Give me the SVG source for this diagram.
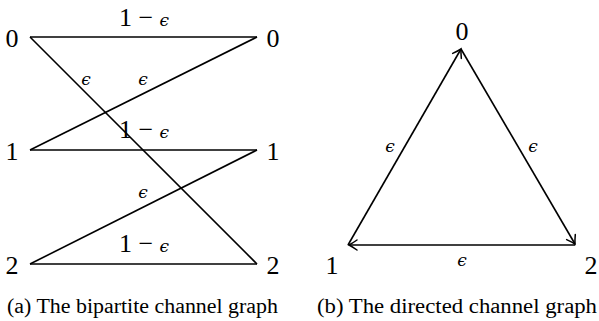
<svg xmlns="http://www.w3.org/2000/svg" width="599" height="321" viewBox="0 0 599 321">
<defs>
<style>
.lbl{font-family:'Liberation Serif','Times New Roman',Times,serif;font-size:26px;fill:#000;text-anchor:middle}
.eps{font-family:'DejaVu Serif',serif;font-style:italic;font-size:17px}
.cap{font-family:'Liberation Serif','Times New Roman',Times,serif;font-size:20px;fill:#000}
.edge{stroke:#000;stroke-width:1.6;fill:none}
</style>
<marker id="arr" markerWidth="14" markerHeight="14" refX="0" refY="0" viewBox="-10 -7 12 14" orient="auto" markerUnits="userSpaceOnUse">
<path d="M-8,-5 Q-3,-1.5 0,0 Q-3,1.5 -8,5" fill="none" stroke="#000" stroke-width="1.5" stroke-linecap="round"/>
</marker>
</defs>
<rect width="599" height="321" fill="#fff"/>
<g id="connectors">
<line class="edge" x1="30" y1="37" x2="257" y2="37"/>
<line class="edge" x1="30" y1="37" x2="257" y2="264"/>
<line class="edge" x1="30" y1="150" x2="257" y2="37"/>
<line class="edge" x1="30" y1="150" x2="257" y2="150"/>
<line class="edge" x1="30" y1="264" x2="257" y2="150"/>
<line class="edge" x1="30" y1="264" x2="257" y2="264"/>
<line class="edge" x1="348" y1="245" x2="461" y2="49" marker-end="url(#arr)"/>
<line class="edge" x1="461" y1="49" x2="575" y2="244" marker-end="url(#arr)"/>
<line class="edge" x1="575" y1="245" x2="349" y2="245" marker-end="url(#arr)"/>
<text class="lbl" x="144" y="26">1 − <tspan class="eps">ϵ</tspan></text>
<text class="lbl" x="86" y="85"><tspan class="eps">ϵ</tspan></text>
<text class="lbl" x="143" y="85"><tspan class="eps">ϵ</tspan></text>
<text class="lbl" x="144" y="138">1 − <tspan class="eps">ϵ</tspan></text>
<text class="lbl" x="143" y="198"><tspan class="eps">ϵ</tspan></text>
<text class="lbl" x="144" y="252">1 − <tspan class="eps">ϵ</tspan></text>
<text class="lbl" x="390" y="152"><tspan class="eps">ϵ</tspan></text>
<text class="lbl" x="533" y="152"><tspan class="eps">ϵ</tspan></text>
<text class="lbl" x="462" y="266"><tspan class="eps">ϵ</tspan></text>
</g>
<g id="a0"><text class="lbl" x="12" y="47">0</text></g>
<g id="a1"><text class="lbl" x="12" y="160">1</text></g>
<g id="a2"><text class="lbl" x="12" y="274">2</text></g>
<g id="b0"><text class="lbl" x="273" y="47">0</text></g>
<g id="b1"><text class="lbl" x="273" y="160">1</text></g>
<g id="b2"><text class="lbl" x="273" y="274">2</text></g>
<g id="n0"><text class="lbl" x="462" y="40">0</text></g>
<g id="n1"><text class="lbl" x="332" y="274">1</text></g>
<g id="n2"><text class="lbl" x="591" y="274">2</text></g>
<text class="cap" x="7" y="313" textLength="271" lengthAdjust="spacingAndGlyphs">(a) The bipartite channel graph</text>
<text class="cap" x="317" y="313" textLength="280" lengthAdjust="spacingAndGlyphs">(b) The directed channel graph</text>
</svg>
